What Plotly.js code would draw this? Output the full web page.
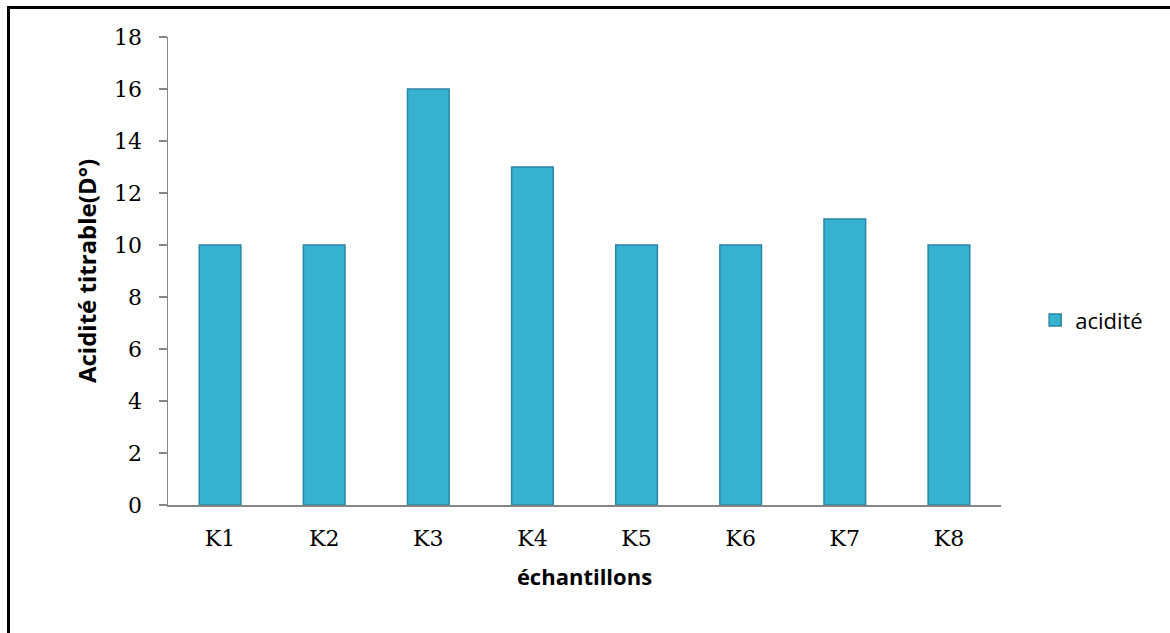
<!DOCTYPE html>
<html>
<head>
<meta charset="utf-8">
<script src="https://cdn.plot.ly/plotly-3.0.1.min.js"></script>
<style>
  html, body { margin: 0; padding: 0; background: #fff; }
  #chart { width: 1170px; height: 633px; }
  #frame {
    position: absolute; left: 7px; top: 6px; width: 1170px; height: 640px;
    border-top: 3px solid #000; border-left: 3px solid #000;
    pointer-events: none;
  }
</style>
</head>
<body>
<div id="chart"></div>
<div id="frame"></div>
<script>
// Titrable acidity per sample
const categories = ['K1', 'K2', 'K3', 'K4', 'K5', 'K6', 'K7', 'K8'];
const acidite = [10, 10, 16, 13, 10, 10, 11, 10];
const yTicks = [0, 2, 4, 6, 8, 10, 12, 14, 16, 18];

const serif = 'DejaVu Serif, Liberation Serif, serif';
const sans = 'Open Sans, Noto Sans, sans-serif';

const trace = {
  type: 'bar',
  name: 'acidité',
  x: categories,
  y: acidite,
  marker: {
    color: '#36b1d2',
    line: { color: '#2a87a3', width: 1.5 }
  },
  hoverinfo: 'x+y'
};

const layout = {
  width: 1170,
  height: 633,
  margin: { l: 168, r: 169, t: 37, b: 128 },
  paper_bgcolor: '#fff',
  plot_bgcolor: '#fff',
  bargap: 0.6,
  showlegend: true,
  legend: {
    x: 1.041, xanchor: 'left',
    y: 0.395, yanchor: 'middle',
    font: { family: sans, size: 22, color: '#000' },
    itemwidth: 30
  },
  xaxis: {
    type: 'category',
    showline: true, linecolor: '#868686', linewidth: 1.5,
    ticks: '', showgrid: false,
    ticklabelstandoff: 13,
    tickfont: { family: serif, size: 22, color: '#000' },
    title: { text: 'échantillons', font: { family: sans, size: 22, color: '#000', weight: 'bold' }, standoff: 19 }
  },
  yaxis: {
    range: [0, 18],
    tickvals: yTicks,
    ticktext: yTicks.map(String),
    showline: true, linecolor: '#868686', linewidth: 1.5,
    ticks: 'outside', ticklen: 8, tickcolor: '#868686', tickwidth: 1.5,
    ticklabelstandoff: 12,
    showgrid: false, zeroline: false,
    tickfont: { family: serif, size: 22, color: '#000' },
    title: { text: 'Acidité titrable(D°)', font: { family: sans, size: 24, color: '#000', weight: 'bold' }, standoff: 10 }
  }
};

Plotly.newPlot('chart', [trace], layout, { displayModeBar: false, staticPlot: true });
</script>
</body>
</html>
